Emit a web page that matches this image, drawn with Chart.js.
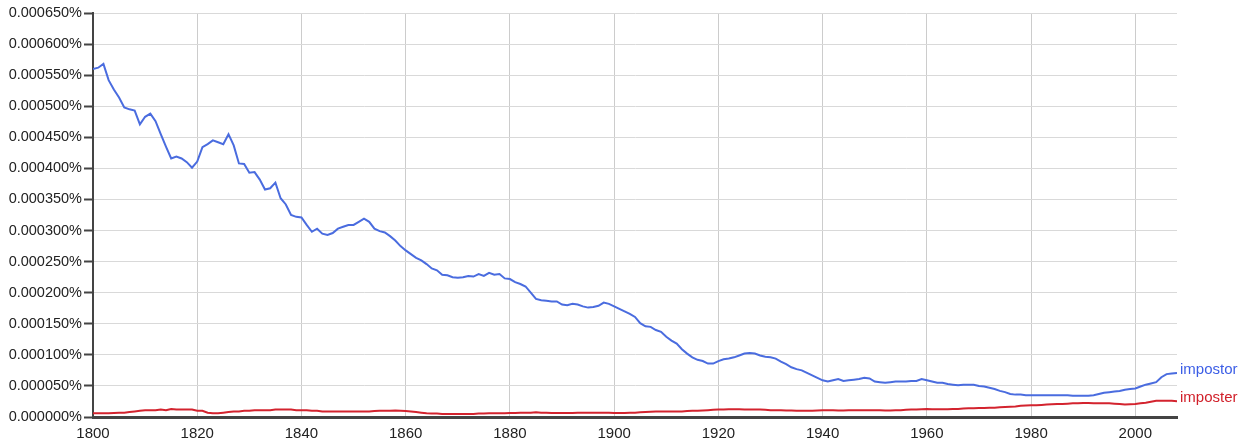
<!DOCTYPE html>
<html>
<head>
<meta charset="utf-8">
<script src="https://cdn.jsdelivr.net/npm/chart.js@4/dist/chart.umd.min.js"></script>
<style>
html,body{margin:0;padding:0;background:#fff;}
#wrap{width:1249px;height:448px;}
</style>
</head>
<body>
<div id="wrap"><canvas id="c" width="1249" height="448"></canvas></div>
<script>
// Years 1800..2008
const startYear = 1800;
const endYear = 2008;
const xTicks = [1800, 1820, 1840, 1860, 1880, 1900, 1920, 1940, 1960, 1980, 2000];
// values in millionths of a percent (0.000001%)
const impostor = [
  560,562,568,542,527,514,498,495,493,471,
  483,488,476,455,435,416,419,416,410,401,
  411,434,439,445,442,439,455,437,408,407,
  393,394,382,366,368,377,352,342,325,322,
  321,309,298,303,295,293,296,303,306,309,
  309,314,319,314,303,299,297,291,284,275,
  268,262,256,252,246,239,236,229,228,225,
  224,225,227,226,230,227,232,229,230,223,
  222,217,214,210,200,190,188,187,186,186,
  181,180,182,181,178,176,177,179,184,182,
  178,174,170,166,161,151,146,145,140,137,
  129,123,118,109,102,96,92,90,86,86,
  90,93,94,96,99,102,103,102,99,97,
  96,94,89,85,80,77,75,71,67,63,
  59,57,59,61,58,59,60,61,63,62,
  57,56,55,56,57,57,57,58,58,61,
  59,57,55,55,53,52,51,52,52,52,
  50,49,47,45,42,40,37,36,36,35,
  35,35,35,35,35,35,35,35,34,34,
  34,34,35,37,39,40,41,42,44,45,
  46,49,52,54,56,64,69,70,71
];
const imposter = [
  6,6,6,6,6.5,7,7,8,9,10,
  11,11,11,12,11,13,12,12,12,12,
  10,10,7,6,6,7,8,9,9,10,
  10,11,11,11,11,12,12,12,12,11,
  11,11,10,10,9,9,9,9,9,9,
  9,9,9,9,9.5,10,10,10,10.5,10,
  9.5,9,8,7,6,5.5,5.5,5,5,5,
  5,5,5,5,5.5,5.5,6,6,6,6,
  6.5,6.5,7,7,7,7.5,7,7,6.5,6.5,
  6.5,6.5,6.5,7,7,7,7,7,7,7,
  6.5,6.5,6.5,7,7,7.5,8,8.5,9,9,
  9,9,9,9,9.5,10,10,10.5,11,11.5,
  12,12,12.5,12.5,12.5,12,12,12,12,11.5,
  11,11,11,10.5,10.5,10,10,10,10,10.5,
  11,11,11,10.5,10.5,11,11,11,11,11,
  11,11,10.5,10.5,11,11,11.5,12,12,12.5,
  13,12.5,12.5,12.5,12.5,13,13,13.5,14,14,
  14.5,14.5,15,15,15.5,16,16.5,17,18,18.5,
  19,19,19.5,20,20.5,21,21,21.5,22,22,
  22.5,22.5,22,22,22,22,21.5,21,20,20.5,
  21,22,23,24.5,26,26,26,26,25.5
];
const seriesNames = ['impostor', 'imposter'];
const lineColors = ['#4a6cdf', '#d3232e'];
const textColors = ['#3c5ee6', '#d1202a'];

const toPoints = arr => arr.map((v, i) => ({x: startYear + i, y: v}));

const endLabels = {
  id: 'endLabels',
  afterDatasetsDraw(chart) {
    const ctx = chart.ctx;
    const ys = chart.scales.y;
    const area = chart.chartArea;
    ctx.save();
    ctx.font = '15px "Liberation Sans", Arial, sans-serif';
    ctx.textBaseline = 'middle';
    ctx.textAlign = 'left';
    chart.data.datasets.forEach((ds, i) => {
      const last = ds.data[ds.data.length - 1].y;
      ctx.fillStyle = textColors[i];
      ctx.fillText(seriesNames[i], area.right + 3, ys.getPixelForValue(last) - 3);
    });
    ctx.restore();
  }
};

new Chart(document.getElementById('c'), {
  type: 'line',
  data: {
    datasets: [
      {label: seriesNames[0], data: toPoints(impostor), borderColor: lineColors[0], borderWidth: 2, pointRadius: 0, tension: 0, fill: false},
      {label: seriesNames[1], data: toPoints(imposter), borderColor: lineColors[1], borderWidth: 2, pointRadius: 0, tension: 0, fill: false}
    ]
  },
  options: {
    responsive: false,
    animation: false,
    layout: {padding: {top: 13, right: 72, left: 0, bottom: 0}},
    plugins: {legend: {display: false}, tooltip: {enabled: false}},
    scales: {
      x: {
        type: 'linear',
        min: startYear,
        max: endYear,
        afterBuildTicks: s => { s.ticks = xTicks.map(v => ({value: v})); },
        afterFit: s => { s.height = 31; },
        ticks: {
          includeBounds: false,
          autoSkip: false,
          maxRotation: 0,
          padding: 8,
          color: '#222',
          font: {family: '"Liberation Sans", Arial, sans-serif', size: 15},
          callback: v => String(v)
        },
        grid: {color: '#cccccc', lineWidth: 1, drawTicks: false},
        border: {color: '#444444', width: 3}
      },
      y: {
        min: 0,
        max: 650,
        afterFit: s => { s.width = 93; },
        ticks: {
          stepSize: 50,
          padding: 2,
          color: '#222',
          font: {family: '"Liberation Sans", Arial, sans-serif', size: 14.5},
          callback: v => (v / 1e6).toFixed(6) + '%'
        },
        grid: {color: '#d9d9d9', lineWidth: 1, drawTicks: true, tickLength: 9, tickColor: '#444444', tickWidth: 2},
        border: {color: '#444444', width: 2}
      }
    }
  },
  plugins: [endLabels]
});
</script>
</body>
</html>
